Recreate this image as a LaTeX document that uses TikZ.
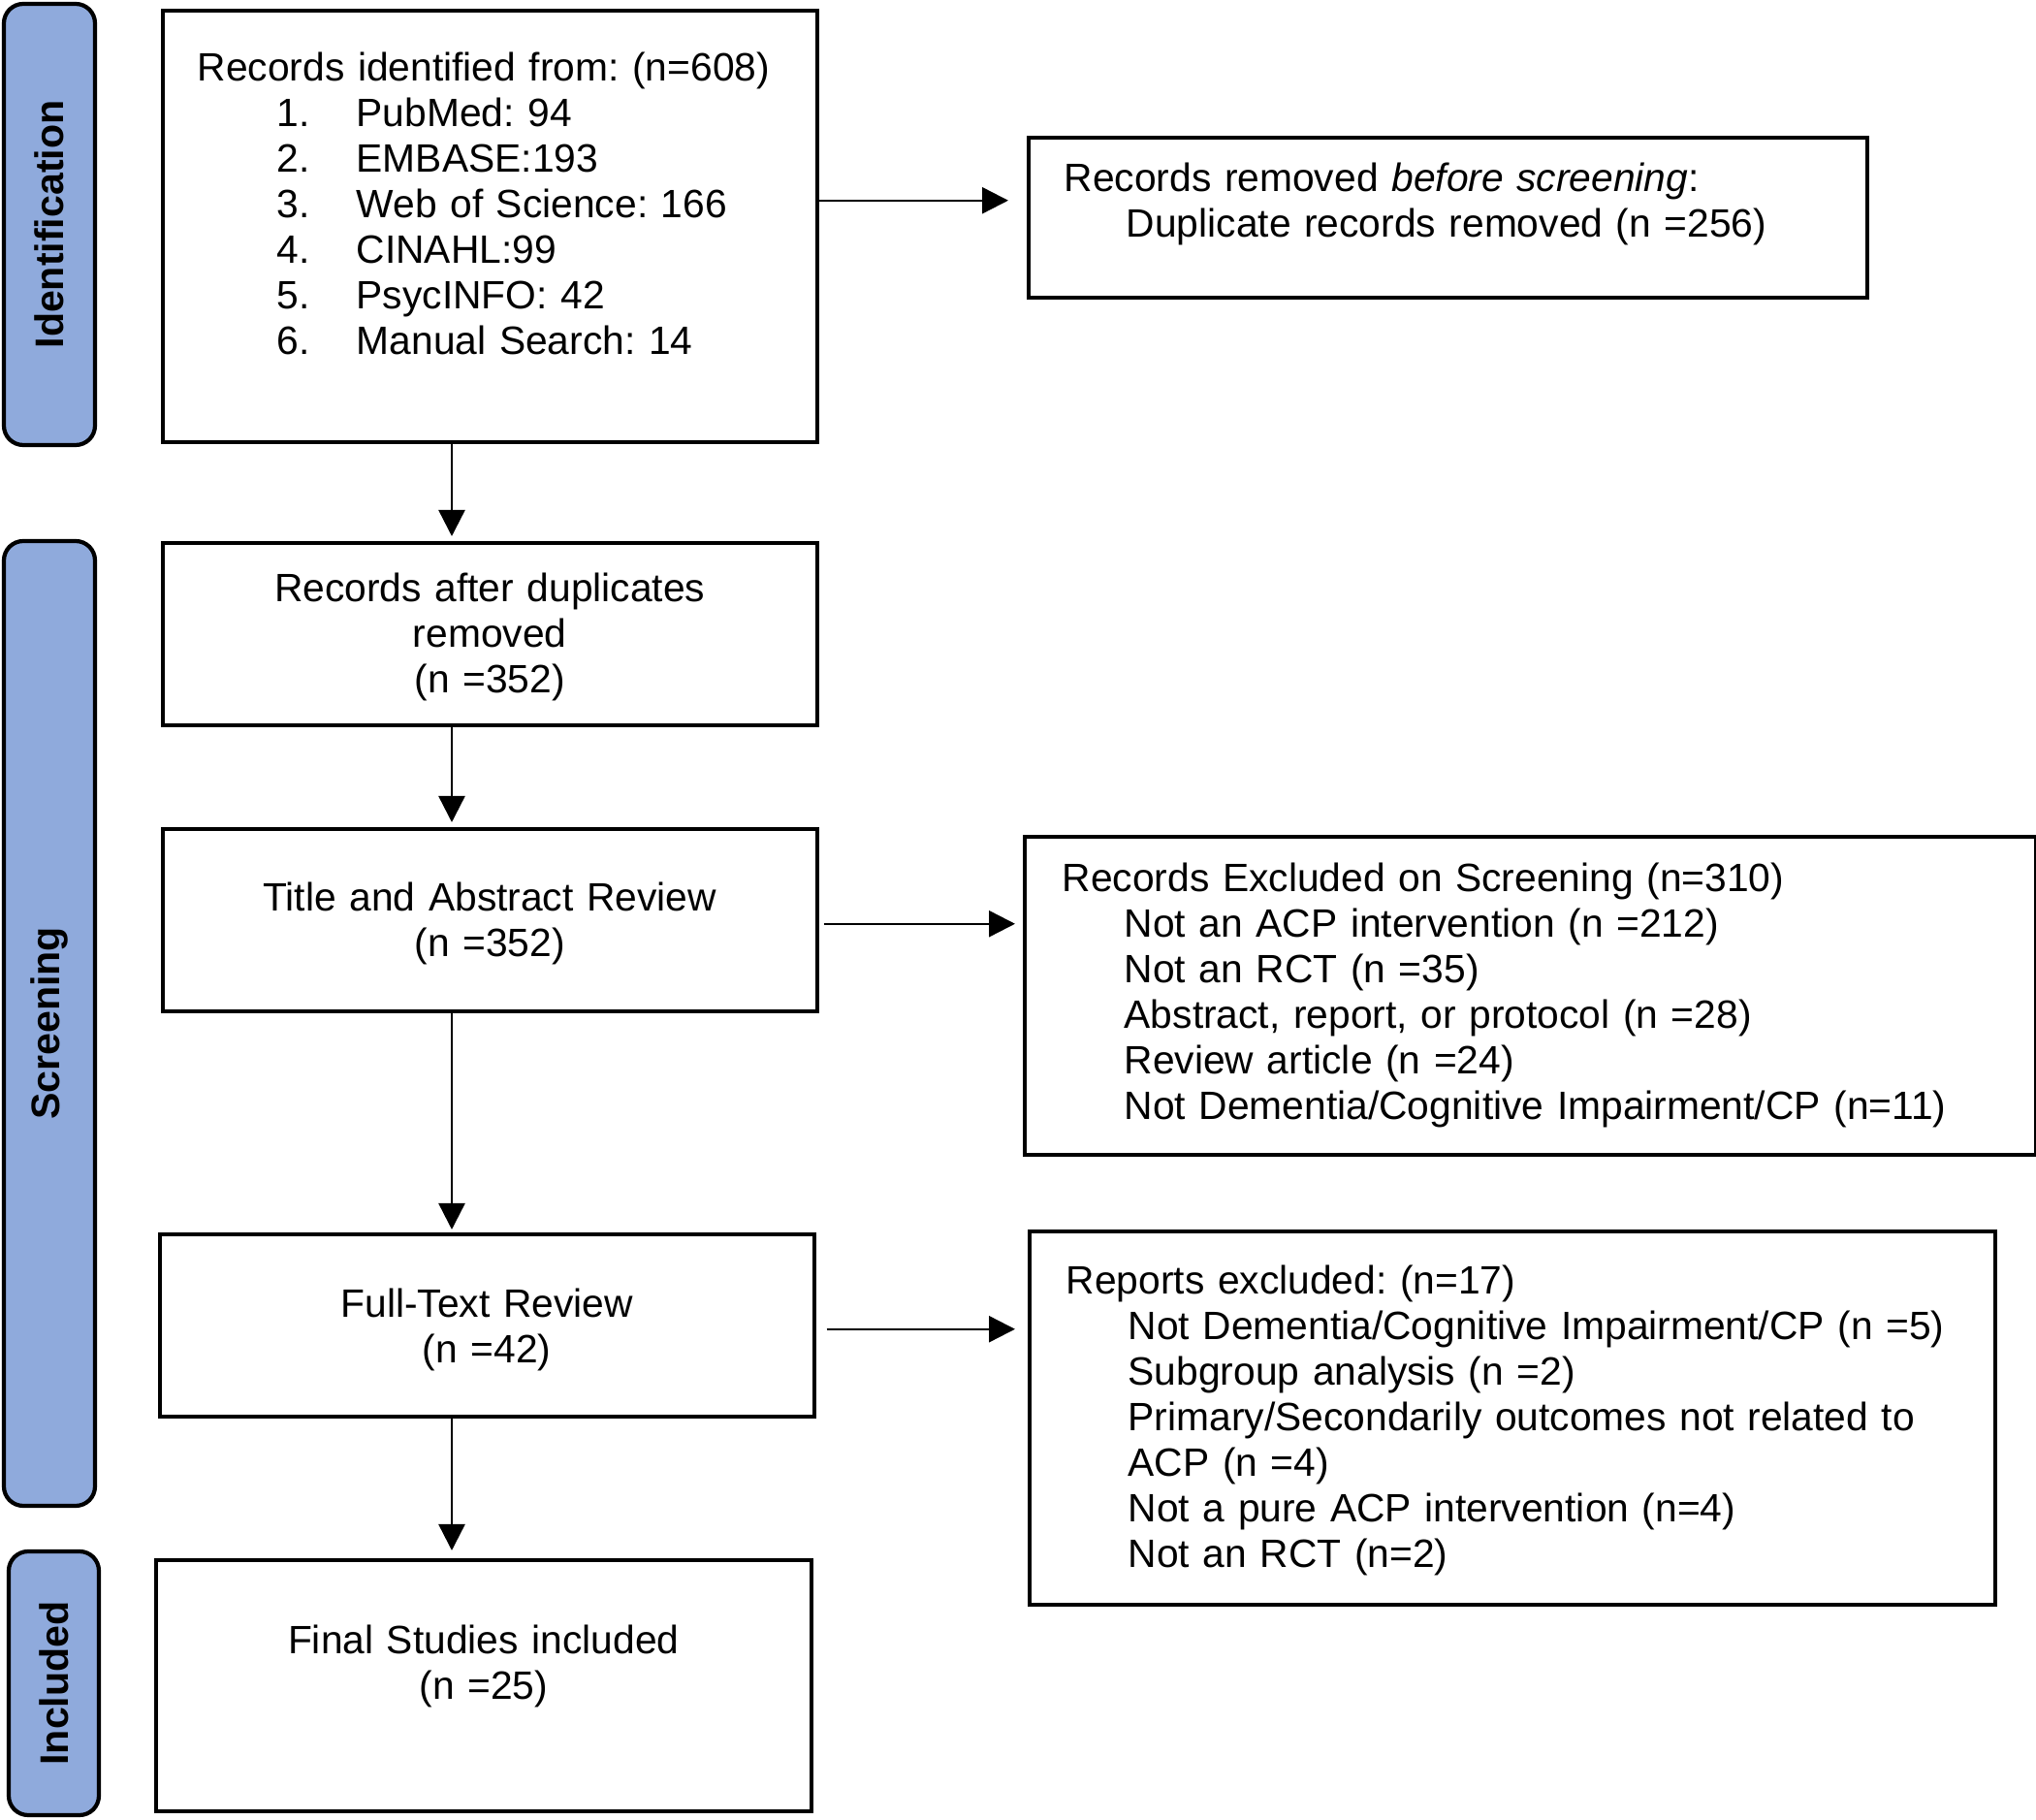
\documentclass[tikz,border=0pt]{standalone}
\usepackage{fontspec}
\setmainfont{Liberation Sans}
\usetikzlibrary{arrows.meta}
\frenchspacing
\definecolor{phaseblue}{HTML}{8FAADC}
\newcommand{\indentx}{\hspace*{0.64cm}}
\newcommand{\srcitem}[2]{\hspace*{0.82cm}\makebox[0.82cm][l]{#1}#2}
\tikzset{box/.style={draw, line width=1pt, inner ysep=0pt, anchor=north west, font=\fontsize{11.6}{13.37}\selectfont}}
\tikzset{lbox/.style={box, inner xsep=0.37cm, align=left}}
\tikzset{cbox/.style={box, inner xsep=0.2cm, align=center}}
\tikzset{phase/.style={draw, line width=1.2pt, fill=phaseblue, rounded corners=0.2cm, rotate=90, inner sep=0pt, font=\fontsize{11.7}{13}\selectfont\bfseries}}
\tikzset{arr/.style={line width=0.7pt, -{Triangle[length=0.27cm,width=0.27cm]}}}

\begin{document}
\begin{tikzpicture}
\useasboundingbox (0,0) rectangle (21,-18.77);
\node[phase, minimum width=4.55cm, minimum height=0.94cm] (ident) at (0.51,-2.315) {Identification};
\node[phase, minimum width=9.95cm, minimum height=0.94cm] (screen) at (0.51,-10.555) {Screening};
\node[phase, minimum width=2.72cm, minimum height=0.93cm] (incl) at (0.555,-17.36) {Included};

\node[lbox, inner xsep=0.36cm, text width=6.03cm, text height=0.73cm, text depth=3.72cm] (found) at (1.66,-0.09)
  {Records identified from: (n=608)\\
   \srcitem{1.}{PubMed: 94}\\
   \srcitem{2.}{EMBASE:193}\\
   \srcitem{3.}{Web of Science: 166}\\
   \srcitem{4.}{CINAHL:99}\\
   \srcitem{5.}{PsycINFO: 42}\\
   \srcitem{6.}{Manual Search: 14}};
\node[lbox, text width=7.91cm, text height=0.56cm, text depth=1.09cm] (dupes) at (10.59,-1.40)
  {Records removed \textit{before screening}:\\
   \indentx Duplicate records removed (n =256)};
\node[cbox, text width=6.35cm, text height=0.61cm, text depth=1.27cm] (unique) at (1.66,-5.58)
  {Records after duplicates\\removed\\(n =352)};
\node[cbox, text width=6.35cm, text height=0.85cm, text depth=1.03cm] (abstr) at (1.66,-8.53)
  {Title and Abstract Review\\(n =352)};
\node[lbox, inner xsep=0.39cm, text width=9.65cm, text height=0.57cm, text depth=2.71cm] (exclscr) at (10.55,-8.61)
  {Records Excluded on Screening (n=310)\\
   \indentx Not an ACP intervention (n =212)\\
   \indentx Not an RCT (n =35)\\
   \indentx Abstract, report, or protocol (n =28)\\
   \indentx Review article (n =24)\\
   \indentx Not Dementia/Cognitive Impairment/CP (n=11)};
\node[cbox, text width=6.35cm, text height=0.86cm, text depth=1.02cm] (fulltext) at (1.63,-12.71)
  {Full-Text Review\\(n =42)};
\node[lbox, inner xsep=0.38cm, text width=9.20cm, text height=0.65cm, text depth=3.20cm] (exclrep) at (10.60,-12.68)
  {Reports excluded: (n=17)\\
   \indentx Not Dementia/Cognitive Impairment/CP (n =5)\\
   \indentx Subgroup analysis (n =2)\\
   \indentx Primary/Secondarily outcomes not related to\\
   \indentx ACP (n =4)\\
   \indentx Not a pure ACP intervention (n=4)\\
   \indentx Not an RCT (n=2)};
\node[cbox, text width=6.36cm, text height=0.97cm, text depth=1.62cm] (final) at (1.59,-16.07)
  {Final Studies included\\(n =25)};

\coordinate (spine) at (4.66,0);
\coordinate (a1) at ([yshift=0.265cm]found.east);
\coordinate (a2) at ([yshift=-0.04cm]abstr.east);
\coordinate (a3) at ([yshift=-0.04cm]fulltext.east);
\draw[arr, shorten >=0.19cm] (a1) -- (a1 -| dupes.west);
\draw[arr, shorten <=0.05cm, shorten >=0.08cm] (a2) -- (a2 -| exclscr.west);
\draw[arr, shorten <=0.11cm, shorten >=0.13cm] (a3) -- (a3 -| exclrep.west);
\draw[arr, shorten >=0.05cm] (found.south -| spine) -- (unique.north -| spine);
\draw[arr, shorten >=0.05cm] (unique.south -| spine) -- (abstr.north -| spine);
\draw[arr, shorten >=0.03cm] (abstr.south -| spine) -- (fulltext.north -| spine);
\draw[arr, shorten >=0.08cm] (fulltext.south -| spine) -- (final.north -| spine);
\end{tikzpicture}
\end{document}
